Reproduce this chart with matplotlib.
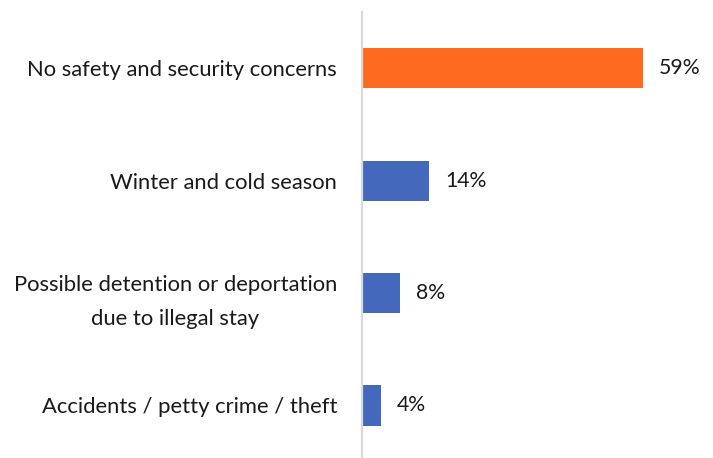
import matplotlib.pyplot as plt

# survey answers, top to bottom
labels = ['No safety and security concerns',
          'Winter and cold season',
          'Possible detention or deportation\ndue to illegal stay',
          'Accidents / petty crime / theft']
values = [59, 14, 8, 4]
colors = ['#FF6A21', '#4368BC', '#4368BC', '#4368BC']

plt.rcParams['font.family'] = ['Lato', 'DejaVu Sans']

fig = plt.figure(figsize=(7.13, 4.58), dpi=100)
ax = fig.add_axes([362 / 713, 0, 351 / 713, 446 / 458])

pos = range(len(values))
bars = ax.barh(pos, values, height=0.356, color=colors)
ax.set_xlim(0, 351 / 4.763)
ax.set_ylim(3.467, -0.5)

for b, v in zip(bars, values):
    ax.text(b.get_width() + 3.4, b.get_y() + b.get_height() / 2, f'{v}%',
            va='center', ha='left', fontsize=15.3, color='#1a1a1a')

ax.set_yticks(list(pos))
ax.set_yticklabels(labels, fontsize=15.8, color='#1a1a1a',
                   multialignment='center', linespacing=1.85)
ax.tick_params(axis='y', length=0, pad=18)
ax.set_xticks([])
for s in ['top', 'right', 'bottom']:
    ax.spines[s].set_visible(False)
ax.spines['left'].set_color('#d9d9d9')
ax.spines['left'].set_linewidth(1.6)

fig.savefig('out.png', dpi=100)
